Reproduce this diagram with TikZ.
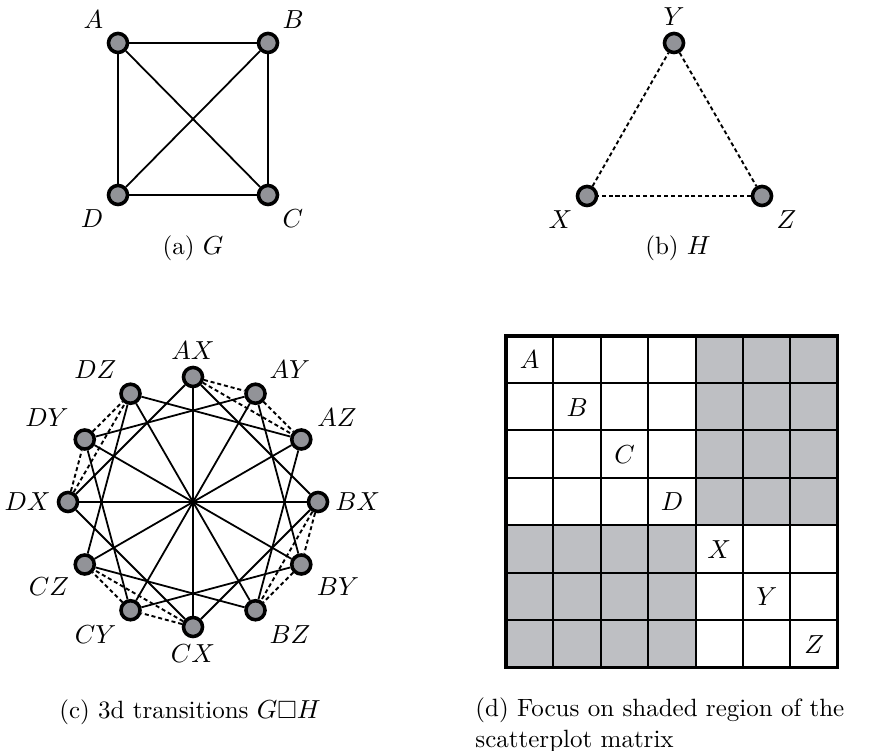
\documentclass[tikz,border=0pt]{standalone}
\usepackage{amsmath,amssymb}
\usetikzlibrary{positioning}
\definecolor{vertgray}{RGB}{146,147,152}
\definecolor{cellgray}{RGB}{190,191,195}

\begin{document}
\begin{tikzpicture}[
  x=0.42pt,
  y=0.42pt,
  font=\fontsize{10.5}{13}\selectfont,
  vert/.style={
    draw,
    circle,
    fill=vertgray,
    line width=1.5pt,
    minimum size=8pt,
    inner sep=0pt
  },
  lbl/.style={label distance=-1pt},
  gedge/.style={line width=0.75pt},
  hedge/.style={line width=0.8pt,dash pattern=on 1.7pt off 1.2pt},
  gridline/.style={line width=0.9pt},
  caption/.style={align=center}
]
\useasboundingbox (0,0) rectangle (870,750);

\node[vert,label={[lbl]135:$A$}] (A) at (118,707) {};
\node[vert,label={[lbl]45:$B$}] (B) at (268,707) {};
\node[vert,label={[lbl]-45:$C$}] (C) at (268,555) {};
\node[vert,label={[lbl]-135:$D$}] (D) at (118,555) {};
\foreach \p/\q in {A/B,B/C,C/D,D/A,A/C,B/D}
  \draw[gedge] (\p) -- (\q);
\node[caption] (capa) at (193,502) {(a) $G$};

\node[vert,label={[lbl]90:$Y$}] (Y) at (674,707) {};
\node[vert,label={[lbl]-135:$X$}] (X) at (587,554) {};
\node[vert,label={[lbl]-45:$Z$}] (Z) at (762,554) {};
\foreach \p/\q in {X/Y,Y/Z,Z/X}
  \draw[hedge] (\p) -- (\q);
\node[caption] (capb) at (678,502) {(b) $H$};

\begin{scope}[shift={(193,248)}]
  \foreach \name/\ang/\la in {AX/90/90,AY/60/50,AZ/30/30,BX/0/0,BY/-30/-35,BZ/-60/-50,
      CX/-90/-90,CY/-120/-130,CZ/-150/-145,DX/180/180,DY/150/150,DZ/120/130}
    \node[vert,label={[lbl]\la:$\name$}] (\name) at (\ang:125) {};
\end{scope}
\foreach \h in {X,Y,Z}
  \foreach \p/\q in {A/B,A/C,A/D,B/C,B/D,C/D}
    \draw[gedge] (\p\h) -- (\q\h);
\foreach \g in {A,B,C,D}
  \foreach \p/\q in {X/Y,Y/Z,X/Z}
    \draw[hedge] (\g\p) -- (\g\q);
\node[caption] (capc) at (190,38) {(c) 3d transitions $G\square H$};

\fill[cellgray] (695.6,414) rectangle (837.8,224.4);
\fill[cellgray] (506,224.4) rectangle (695.6,82.6);
\foreach \i in {1,...,6} {
  \draw[gridline] (506+47.4*\i,82.6) -- (506+47.4*\i,414);
  \draw[gridline] (506,82.6+47.4*\i) -- (837.8,82.6+47.4*\i);
}
\draw[line width=1.3pt] (506,82.6) rectangle (837.8,414);
\foreach \t [count=\k from 0] in {A,B,C,D,X,Y,Z}
  \node (m\t) at (529.7+47.4*\k,390.3-47.4*\k) {$\t$};
\node[anchor=west,align=left,inner sep=0pt] (capd) at (475,25)
  {(d) Focus on shaded region of the\\scatterplot matrix};
\end{tikzpicture}
\end{document}
